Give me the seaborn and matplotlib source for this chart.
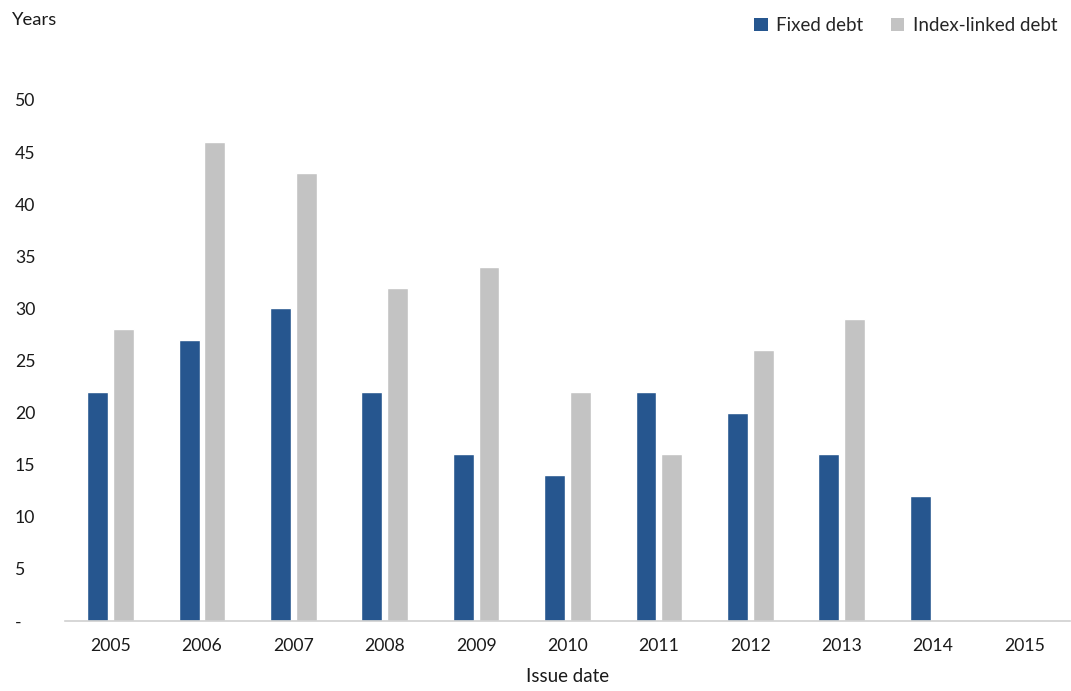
import matplotlib
matplotlib.use("Agg")
import matplotlib.pyplot as plt
import seaborn as sns
import pandas as pd
import numpy as np
from matplotlib.patches import Patch

years = ["2005", "2006", "2007", "2008", "2009", "2010", "2011", "2012", "2013", "2014", "2015"]
fixed_debt = [22, 27, 30, 22, 16, 14, 22, 20, 16, 12, np.nan]
index_linked_debt = [28, 46, 43, 32, 34, 22, 16, 26, 29, np.nan, np.nan]
series_names = ["Fixed debt", "Index-linked debt"]
colors = ["#26568F", "#C3C3C3"]
yticks = [0, 5, 10, 15, 20, 25, 30, 35, 40, 45, 50]
ytick_labels = ["-"] + [str(v) for v in yticks[1:]]

df = pd.DataFrame({
    "year": years * 2,
    "value": fixed_debt + index_linked_debt,
    "series": [series_names[0]] * len(years) + [series_names[1]] * len(years),
})

sns.set_style("white")
plt.rcParams["font.family"] = ["Lato", "DejaVu Sans"]

fig = plt.figure(figsize=(10.71, 6.91), dpi=100)
ax = fig.add_axes([65 / 1071, 1 - 621 / 691, (1070 - 65) / 1071, (621 - 100) / 691])

sns.barplot(data=df, x="year", y="value", hue="series", order=years,
            hue_order=series_names, palette=colors, width=0.565, gap=0.19,
            saturation=1, ax=ax, legend=False)

ax.set_xlim(-0.5, len(years) - 0.5)
ax.set_ylim(0, 50)
ax.set_yticks(yticks)
ax.set_yticklabels(ytick_labels)
ax.tick_params(axis="both", length=0, labelsize=12.7, colors="#1a1a1a")
ax.tick_params(axis="x", pad=12)
ax.tick_params(axis="y", pad=36)
for lab in ax.get_yticklabels():
    lab.set_horizontalalignment("left")
ax.set_xlabel("Issue date", fontsize=13.5, color="#1a1a1a", labelpad=10)
ax.set_ylabel("")
for s in ["top", "right", "left"]:
    ax.spines[s].set_visible(False)
ax.spines["bottom"].set_color("#D0D0D0")
ax.spines["bottom"].set_linewidth(1.2)

fig.text(12 / 1071, 1 - 20 / 691, "Years", fontsize=13.3, color="#1a1a1a", va="center", ha="left")

handles = [Patch(facecolor=c, edgecolor="none") for c in colors]
fig.legend(handles, series_names, loc="upper right", bbox_to_anchor=(1.003, 1.0),
           ncol=2, frameon=False, fontsize=13.5, handlelength=0.7, handleheight=0.7,
           handletextpad=0.45, columnspacing=1.5)

fig.savefig("out.png", dpi=100)
